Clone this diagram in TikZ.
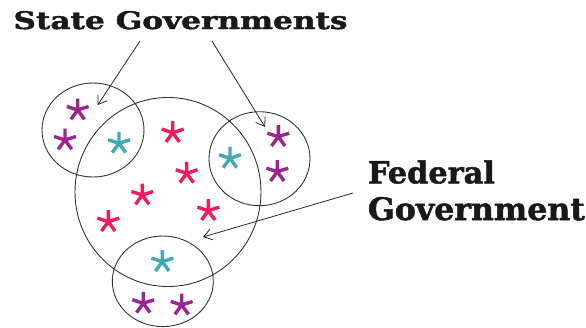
\documentclass[tikz,border=0pt]{standalone}
\usepackage{fontspec}
\setmainfont{DejaVu Serif}
\newfontfamily\heavyfont[FakeBold=1.6]{DejaVu Serif Bold}
\usetikzlibrary{arrows.meta}
\definecolor{spurple}{HTML}{9C2490}
\definecolor{scyan}{HTML}{43A9B1}
\definecolor{sred}{HTML}{EE1C5A}
\newcommand\myast[3]{%
  \draw[#3,line width=3.4pt] (#1,#2) -- ++(90:11.5pt) (#1,#2) -- ++(18:11.5pt)
    (#1,#2) -- ++(162:11.5pt) (#1,#2) -- ++(-54:11.5pt) (#1,#2) -- ++(234:11.5pt);}
\begin{document}
\begin{tikzpicture}[x=1pt,y=-1pt,
  ring/.style={draw=black!80,line width=0.9pt},
  arr/.style={draw=black!85,line width=0.8pt,-{Straight Barb[length=8pt,width=11pt]}},
  lbl/.style={anchor=base west,inner sep=0pt,font=\heavyfont,text=black!90}]
\useasboundingbox (0,0) rectangle (586,327);
% circles
\draw[ring] (168,192) ellipse [x radius=93, y radius=94.5];
\draw[ring] (93,130) ellipse [x radius=51, y radius=47];
\draw[ring] (259.5,158.7) ellipse [x radius=50.5, y radius=47];
\draw[ring] (162.8,281.3) ellipse [x radius=50.5, y radius=45.3];
% stars
\myast{77.7}{110}{spurple}
\myast{65}{140}{spurple}
\myast{119}{143.3}{scyan}
\myast{172.7}{132.7}{sred}
\myast{186.7}{173.3}{sred}
\myast{142.3}{195}{sred}
\myast{108.3}{221.7}{sred}
\myast{208.3}{210.7}{sred}
\myast{230}{158.3}{scyan}
\myast{278.3}{136.7}{spurple}
\myast{277.3}{171.7}{spurple}
\myast{162.3}{261.7}{scyan}
\myast{143.3}{303.3}{spurple}
\myast{181.7}{305}{spurple}
% labels
\node[lbl] (sg) at (13.3,29) {\resizebox{334pt}{18pt}{State Governments}};
\node[lbl] (fed) at (367.7,183.3) {\resizebox{127pt}{23pt}{Federal}};
\node[lbl] (gov) at (367.7,220) {\resizebox{217pt}{23pt}{Government}};
% arrow endpoints
\coordinate (s1) at (140,41);
\coordinate (e1) at (97.7,105);
\coordinate (s2) at (212,41);
\coordinate (e2) at (265,127);
\coordinate (s3) at (353,193);
\coordinate (e3) at (203,237);
\draw[arr] (s1) -- (e1);
\draw[arr] (s2) -- (e2);
\draw[arr] (s3) -- (e3);
\end{tikzpicture}
\end{document}
